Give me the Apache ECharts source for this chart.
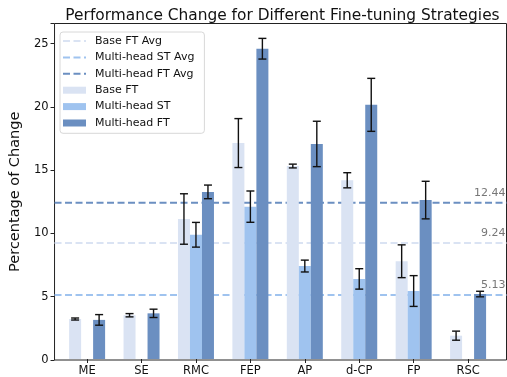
<!DOCTYPE html>
<html>
<head>
<meta charset="utf-8">
<script src="https://cdn.jsdelivr.net/npm/echarts@6/dist/echarts.min.js"></script>
<style>
html,body{margin:0;padding:0;background:#fff;}
#chart{width:507px;height:377px;}
</style>
</head>
<body>
<div id="chart"></div>
<script>
// ---- data ----
const categories = ['ME', 'SE', 'RMC', 'FEP', 'AP', 'd-CP', 'FP', 'RSC'];
const seriesNames = ['Base FT', 'Multi-head ST', 'Multi-head FT'];
const baseFT = [3.17, 3.47, 11.1, 17.12, 15.3, 14.17, 7.75, 1.85];
const multiST = [0, 0, 9.85, 12.08, 7.37, 6.35, 5.39, 0];
const multiFT = [3.1, 3.62, 13.25, 24.6, 17.05, 20.15, 12.6, 5.15];
const baseErr = [0.08, 0.13, 2.0, 1.94, 0.15, 0.6, 1.3, 0.36];
const stErr = [0, 0, 0.98, 1.24, 0.47, 0.81, 1.22, 0];
const ftErr = [0.42, 0.33, 0.54, 0.82, 1.8, 2.1, 1.49, 0.22];
const avgNames = ['Base FT Avg', 'Multi-head ST Avg', 'Multi-head FT Avg'];
const avgValues = [9.24, 5.13, 12.44];
const yTicks = [0, 5, 10, 15, 20, 25];

// ---- styling ----
const colors = ['#dae3f3', '#9fc3ef', '#6b8fc1'];
const FONT = 'DejaVu Sans';
const BAR_W = 12;
const Y_MAX = 26.6;
const X_MIN = -0.71, X_MAX = 7.709;
const DASH_ICON = 'path://M0,0L0.01,0M0,7L0.01,7M0,2.5h7v2h-7zM10.5,2.5h7v2h-7zM21,2.5h2v2h-2z';

const values = [baseFT, multiST, multiFT];
const errs = [baseErr, stErr, ftErr];

// error bars (skip empty entries: zero value with zero error)
const errData = [];
values.forEach((arr, s) => {
  arr.forEach((v, i) => {
    if (v === 0 && errs[s][i] === 0) return;
    errData.push([i, v - errs[s][i], v + errs[s][i], s]);
  });
});

const series = [];
avgNames.forEach((name, k) => {
  series.push({
    name: name,
    type: 'line',
    xAxisIndex: 0, yAxisIndex: 0,
    data: [[X_MIN, avgValues[k]], [X_MAX, avgValues[k]]],
    symbol: 'none',
    showSymbol: false,
    silent: true,
    z: 1,
    color: colors[k],
    lineStyle: { color: colors[k], width: 2, type: [7, 3.5] }
  });
});
series.push({
  type: 'custom',
  xAxisIndex: 0, yAxisIndex: 0,
  data: avgValues.map(v => [X_MAX, v]),
  silent: true,
  z: 3,
  renderItem: function (params, api) {
    const p = api.coord([api.value(0), api.value(1)]);
    return {
      type: 'text',
      x: p[0] - 1, y: p[1] - 4,
      style: {
        text: api.value(1).toFixed(2),
        align: 'right', verticalAlign: 'bottom',
        fill: '#777', font: '11px "DejaVu Sans"'
      }
    };
  }
});
seriesNames.forEach((name, s) => {
  series.push({
    name: name,
    type: 'bar',
    xAxisIndex: 1, yAxisIndex: 1,
    data: values[s],
    barWidth: BAR_W,
    barGap: '0%',
    color: colors[s],
    itemStyle: { color: colors[s] },
    z: 2
  });
});
series.push({
  type: 'custom',
  xAxisIndex: 1, yAxisIndex: 1,
  data: errData,
  z: 5,
  silent: true,
  renderItem: function (params, api) {
    const i = api.value(0);
    const s = api.value(3);
    const lo = api.coord([i, api.value(1)]);
    const hi = api.coord([i, api.value(2)]);
    const x = lo[0] + (s - 1) * BAR_W;
    const cap = 4;
    const st = { stroke: '#111', lineWidth: 1.4 };
    return {
      type: 'group',
      children: [
        { type: 'line', shape: { x1: x, y1: lo[1], x2: x, y2: hi[1] }, style: st },
        { type: 'line', shape: { x1: x - cap, y1: lo[1], x2: x + cap, y2: lo[1] }, style: st },
        { type: 'line', shape: { x1: x - cap, y1: hi[1], x2: x + cap, y2: hi[1] }, style: st }
      ]
    };
  }
});

const chart = echarts.init(document.getElementById('chart'), null, { renderer: 'canvas' });
chart.setOption({
  animation: false,
  backgroundColor: '#fff',
  textStyle: { fontFamily: FONT },
  title: {
    text: 'Performance Change for Different Fine-tuning Strategies',
    left: 277.5, top: 3, textAlign: 'center',
    textStyle: { fontFamily: FONT, fontSize: 15.4, fontWeight: 'normal', color: '#111' }
  },
  legend: {
    orient: 'vertical',
    left: 60, top: 32,
    data: avgNames.map((n, k) => ({
      name: n, icon: DASH_ICON,
      itemStyle: { color: colors[k], borderWidth: 0 },
      lineStyle: { width: 0 }
    })).concat(seriesNames.map(n => ({ name: n, icon: 'rect' }))),
    itemWidth: 23, itemHeight: 7, itemGap: 2.4,
    padding: [2, 10, 3.3, 3],
    backgroundColor: '#fff',
    borderColor: '#d8d8d8', borderWidth: 1, borderRadius: 3,
    textStyle: { fontFamily: FONT, fontSize: 11, color: '#111', lineHeight: 14, padding: [0, 0, 0, 4] },
    selectedMode: false
  },
  grid: [
    { left: 48.5, top: 23.5, width: 458, height: 336.5, show: true, borderColor: '#222', borderWidth: 1, backgroundColor: 'transparent' },
    { left: 59.9, top: 23.5, width: 435.4, height: 336.5 }
  ],
  xAxis: [
    { type: 'value', gridIndex: 0, min: X_MIN, max: X_MAX, show: false,
      axisLine: { show: false, onZero: false } },
    {
      type: 'category', gridIndex: 1, data: categories,
      axisLine: { show: false, onZero: false },
      axisTick: { show: true, alignWithLabel: true, length: 4, lineStyle: { color: '#222' } },
      axisLabel: { fontFamily: FONT, fontSize: 11.5, color: '#111', margin: 6 }
    }
  ],
  yAxis: [
    {
      type: 'value', gridIndex: 0, min: 0, max: Y_MAX, interval: 5,
      position: 'left',
      axisLine: { show: false, onZero: false },
      axisTick: { show: true, length: 4, lineStyle: { color: '#222' } },
      axisLabel: {
        fontFamily: FONT, fontSize: 11.5, color: '#111', margin: 6,
        formatter: function (v) { return yTicks.indexOf(v) >= 0 ? String(v) : ''; }
      },
      splitLine: { show: false },
      name: 'Percentage of Change',
      nameLocation: 'middle',
      nameGap: 31,
      nameTextStyle: { fontFamily: FONT, fontSize: 14.5, color: '#111' }
    },
    { type: 'value', gridIndex: 1, min: 0, max: Y_MAX, show: false,
      axisTick: { show: false }, axisLabel: { show: false },
      axisLine: { show: false, onZero: false }, splitLine: { show: false } }
  ],
  series: series
});
</script>
</body>
</html>
